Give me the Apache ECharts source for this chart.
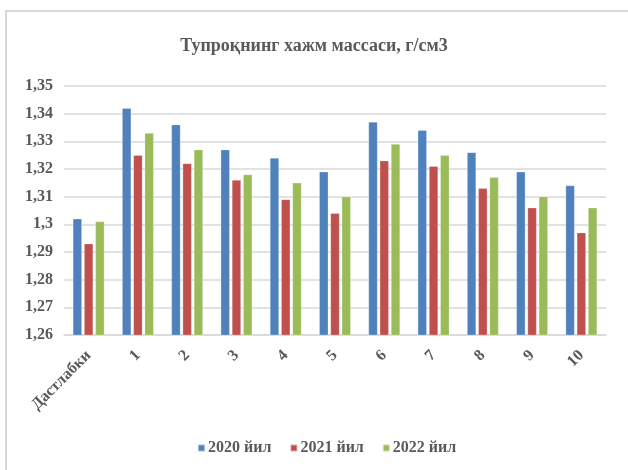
<!DOCTYPE html>
<html><head><meta charset="utf-8">
<script src="https://cdn.jsdelivr.net/npm/echarts@6/dist/echarts.min.js"></script>
<style>
html,body{margin:0;padding:0;background:#fff;}
#frame{position:absolute;left:5px;top:10px;width:640px;height:480px;border-left:2px solid #d9d9d9;border-top:2px solid #d9d9d9;}
#c{position:absolute;left:0;top:0;width:628px;height:470px;}
</style></head>
<body>
<div id="frame"></div>
<div id="c"></div>
<script>
const categories = ['Дастлабки','1','2','3','4','5','6','7','8','9','10'];
const seriesNames = ['2020 йил','2021 йил','2022 йил'];
const values2020 = [1.302,1.342,1.336,1.327,1.324,1.319,1.337,1.334,1.326,1.319,1.314];
const values2021 = [1.293,1.325,1.322,1.316,1.309,1.304,1.323,1.321,1.313,1.306,1.297];
const values2022 = [1.301,1.333,1.327,1.318,1.315,1.310,1.329,1.325,1.317,1.310,1.306];
const colors = ['#4F81BD','#C0504D','#9BBB59'];
const font = '"Liberation Serif","Times New Roman",serif';

const chart = echarts.init(document.getElementById('c'), null, {renderer:'canvas'});
const data = [values2020, values2021, values2022];
chart.setOption({
  animation:false,
  backgroundColor:'transparent',
  title:{text:'Тупроқнинг хажм массаси, г/см3',left:'center',top:32,
    textStyle:{fontFamily:font,fontWeight:'bold',fontSize:18,color:'#595959'}},
  grid:{left:64,right:22,top:86,bottom:135,containLabel:false},
  xAxis:{type:'category',data:categories,
    axisLine:{show:true,lineStyle:{color:'#d9d9d9',width:1.5}},
    axisTick:{show:false},
    axisLabel:{rotate:45,interval:0,margin:18,fontFamily:font,fontWeight:'bold',fontSize:16,color:'#595959'}},
  yAxis:{type:'value',min:1.26,max:1.35,interval:0.01,
    axisLine:{show:false},axisTick:{show:false},
    splitLine:{lineStyle:{color:'#d9d9d9',width:1.5}},
    axisLabel:{margin:11,fontFamily:font,fontWeight:'bold',fontSize:16,color:'#595959',
      formatter:v=>{let s=(Math.round(v*100)/100).toString();return s.replace('.',',');}}},
  legend:{bottom:9,left:192,itemWidth:7,itemHeight:7,itemGap:18,icon:'rect',
    textStyle:{fontFamily:font,fontWeight:'bold',fontSize:16,color:'#595959',padding:[0,0,0,-2]},
    data:seriesNames},
  series:seriesNames.map((n,i)=>({
    name:n,type:'bar',data:data[i],barWidth:9,barGap:'25%',
    itemStyle:{color:colors[i],borderColor:'rgba(255,255,255,0.5)',borderWidth:0.5}
  }))
});
</script>
</body></html>
